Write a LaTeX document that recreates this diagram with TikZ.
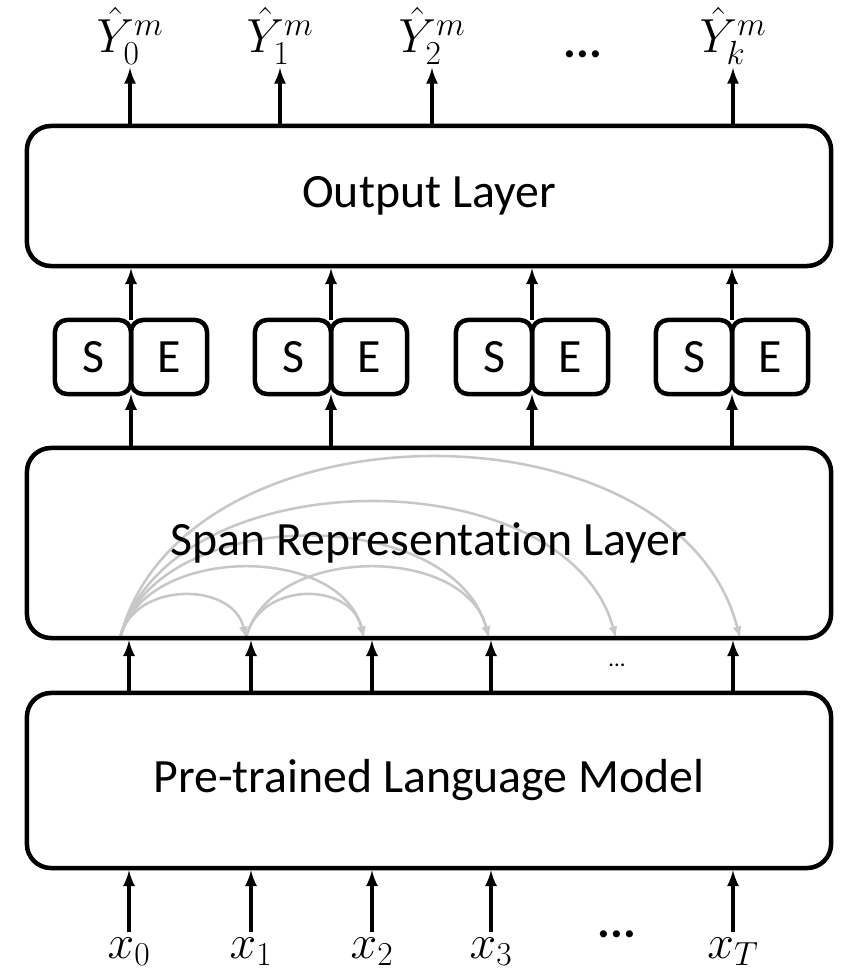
\documentclass[tikz,border=0pt]{standalone}
\usepackage{fix-cm}
\usepackage{fontspec}
\setmainfont{Carlito}[Ligatures=NoCommon]
\usetikzlibrary{arrows}
\tikzset{>=latex}
\tikzstyle{layer}=[rectangle,draw=black,line width=3.2pt,rounded corners=0.6cm,minimum width=20.1cm,font=\fontsize{34}{40}\selectfont]
\tikzstyle{half}=[rectangle,draw=black,line width=3.2pt,rounded corners=0.3cm,minimum width=1.9cm,minimum height=1.85cm,outer sep=0pt,font=\fontsize{34}{40}\selectfont]
\tikzstyle{io}=[anchor=base,font=\fontsize{34}{40}\selectfont]
\tikzstyle{link}=[->,line width=2.8pt]
\tikzstyle{attn}=[->,line width=1.8pt,draw=black!22]

\begin{document}
\begin{tikzpicture}[x=0.025cm,y=-0.025cm]
	\useasboundingbox (0,0) rectangle (844,971);
	
	% span arcs
	\foreach \n/\x in {0/120,1/246,2/364,3/489,4/616,5/740}
		\coordinate (p\n) at (\x,638);
	\foreach \a/\b/\d/\k in {0/1/13/57,0/2/24/94,0/3/37/135,0/4/50/181,0/5/62/241,1/2/13/57,1/3/24/94}
		\draw[attn] (p\a) .. controls +(\d,-\k) and +(-\d,-\k) .. (p\b);
	
	\node[layer,minimum height=3.5cm] (out) at (429,196) {Output Layer};
	\node[layer,minimum height=4.75cm] (span) at (429,543) {Span Representation Layer};
	\node[layer,minimum height=4.375cm] (plm) at (429,780.5) {Pre-trained Language Model};
	
	\foreach \i/\x in {0/131,1/331,2/532,3/732}{
		\node[half,anchor=east] (s\i) at (\x,357) {S};
		\node[half,anchor=west] (e\i) at (\x,357) {E};
		\draw[link] (span.north -| s\i.east) -- (s\i.south east);
		\draw[link] (s\i.north east) -- (out.south -| s\i.east);
	}
	
	\foreach \i/\x/\t in {0/130/0,1/280/1,2/432/2,3/733/k}{
		\node[io,inner sep=2pt] (y\i) at (\x,53) {$\hat{Y}_{\t}^{m}$};
		\draw[link] (out.north -| y\i) -- (y\i.south);
	}
	\node[io] (ydots) at (583,58) {\textbf{...}};
	
	\foreach \i/\x/\t in {0/129/0,1/251/1,2/372/2,3/491/3,4/733/T}{
		\node[io] (x\i) at (\x,958) {$x_{\t}$};
		\draw[link] (x\i.north) -- (plm.south -| x\i);
		\draw[link] (plm.north -| x\i) -- (span.south -| x\i);
	}
	\node[io] (xdots) at (617,937) {\textbf{...}};
	\node[font=\fontsize{16}{18}\selectfont] (mdots) at (617,665) {...};
\end{tikzpicture}
\end{document}
